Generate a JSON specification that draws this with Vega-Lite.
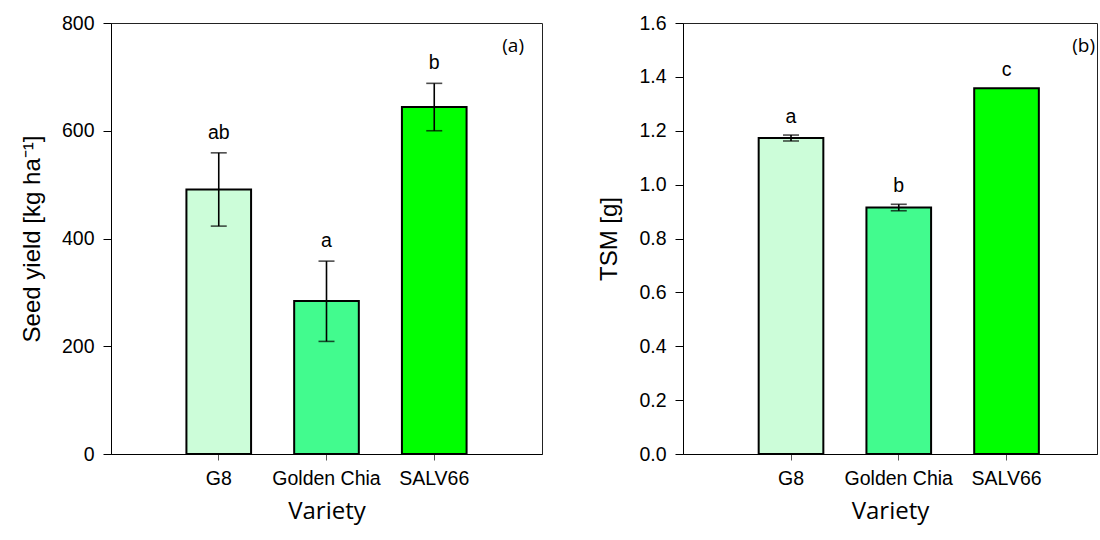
{
  "$schema": "https://vega.github.io/schema/vega-lite/v6.json",
  "background": "white",
  "padding": {"left": 19, "top": 12, "right": 0, "bottom": 8},
  "bounds": "flush",
  "spacing": 141,
  "config": {
    "font": "Liberation Sans",
    "view": {"stroke": "#222", "strokeWidth": 1},
    "axis": {
      "grid": false,
      "domainColor": "#000",
      "domainWidth": 1,
      "tickColor": "#000",
      "labelColor": "#000",
      "titleColor": "#000",
      "labelFont": "Liberation Sans",
      "titleFont": "Liberation Sans",
      "labelFontSize": 19.5,
      "titleFontWeight": "normal"
    },
    "axisY": {"tickSize": 8, "labelPadding": 9, "titlePadding": 17, "titleFontSize": 24},
    "axisX": {"tickSize": 6, "tickColor": "#555", "labelPadding": 9, "labelAngle": 0, "titlePadding": 12, "titleFont": "Open Sans", "titleFontSize": 24},
    "title": {"font": "Open Sans", "fontSize": 19, "fontWeight": "normal", "color": "#000", "anchor": "end", "frame": "group", "baseline": "top"}
  },
  "datasets": {
    "yield": [
      {"variety": "G8", "mean": 491, "lower": 423, "upper": 559, "letter": "ab"},
      {"variety": "Golden Chia", "mean": 284, "lower": 209, "upper": 358, "letter": "a"},
      {"variety": "SALV66", "mean": 644, "lower": 600, "upper": 688, "letter": "b"}
    ],
    "tsm": [
      {"variety": "G8", "mean": 1.173, "lower": 1.162, "upper": 1.184, "letter": "a"},
      {"variety": "Golden Chia", "mean": 0.915, "lower": 0.903, "upper": 0.927, "letter": "b"},
      {"variety": "SALV66", "mean": 1.358, "lower": 1.358, "upper": 1.358, "letter": "c"}
    ]
  },
  "hconcat": [
    {
      "width": 431,
      "height": 431,
      "data": {"name": "yield"},
      "title": {"text": "(a)", "offset": -18, "dx": -18, "dy": 25},
      "encoding": {
        "x": {"field": "variety", "type": "nominal", "sort": null, "title": "Variety",
              "scale": {"paddingInner": 0.4, "paddingOuter": 0.7}}
      },
      "layer": [
        {
          "mark": {"type": "bar", "stroke": "#000", "strokeWidth": 2},
          "encoding": {
            "y": {"field": "mean", "type": "quantitative", "title": "Seed yield [kg ha⁻¹]",
                  "scale": {"domain": [0, 800], "nice": false},
                  "axis": {"values": [0, 200, 400, 600, 800]}},
            "color": {"field": "variety", "type": "nominal", "legend": null,
                      "scale": {"domain": ["G8", "Golden Chia", "SALV66"], "range": ["#ccfdd9", "#42fb8e", "#00ff00"]}}
          }
        },
        {
          "transform": [{"filter": "datum.upper > datum.lower"}],
          "mark": {"type": "rule", "color": "#000", "strokeWidth": 1.6},
          "encoding": {"y": {"field": "lower", "type": "quantitative"}, "y2": {"field": "upper"}}
        },
        {
          "transform": [{"filter": "datum.upper > datum.lower"}],
          "mark": {"type": "tick", "orient": "horizontal", "color": "#000", "size": 16, "thickness": 1.6},
          "encoding": {"y": {"field": "upper", "type": "quantitative"}}
        },
        {
          "transform": [{"filter": "datum.upper > datum.lower"}],
          "mark": {"type": "tick", "orient": "horizontal", "color": "#000", "size": 16, "thickness": 1.6},
          "encoding": {"y": {"field": "lower", "type": "quantitative"}}
        },
        {
          "mark": {"type": "text", "dy": -14, "baseline": "alphabetic", "fontSize": 19.5, "color": "#000"},
          "encoding": {"y": {"field": "upper", "type": "quantitative"}, "text": {"field": "letter"}}
        }
      ]
    },
    {
      "width": 414,
      "height": 431,
      "data": {"name": "tsm"},
      "title": {"text": "(b)", "offset": -18, "dx": -2, "dy": 25},
      "encoding": {
        "x": {"field": "variety", "type": "nominal", "sort": null, "title": "Variety",
              "scale": {"paddingInner": 0.4, "paddingOuter": 0.621, "align": 0.5655}}
      },
      "layer": [
        {
          "mark": {"type": "bar", "stroke": "#000", "strokeWidth": 2},
          "encoding": {
            "y": {"field": "mean", "type": "quantitative", "title": "TSM [g]",
                  "scale": {"domain": [0, 1.6], "nice": false},
                  "axis": {"values": [0, 0.2, 0.4, 0.6, 0.8, 1.0, 1.2, 1.4, 1.6], "format": ".1f"}},
            "color": {"field": "variety", "type": "nominal", "legend": null,
                      "scale": {"domain": ["G8", "Golden Chia", "SALV66"], "range": ["#ccfdd9", "#42fb8e", "#00ff00"]}}
          }
        },
        {
          "transform": [{"filter": "datum.upper > datum.lower"}],
          "mark": {"type": "rule", "color": "#000", "strokeWidth": 1.6},
          "encoding": {"y": {"field": "lower", "type": "quantitative"}, "y2": {"field": "upper"}}
        },
        {
          "transform": [{"filter": "datum.upper > datum.lower"}],
          "mark": {"type": "tick", "orient": "horizontal", "color": "#000", "size": 16, "thickness": 1.6},
          "encoding": {"y": {"field": "upper", "type": "quantitative"}}
        },
        {
          "transform": [{"filter": "datum.upper > datum.lower"}],
          "mark": {"type": "tick", "orient": "horizontal", "color": "#000", "size": 16, "thickness": 1.6},
          "encoding": {"y": {"field": "lower", "type": "quantitative"}}
        },
        {
          "mark": {"type": "text", "dy": -12, "baseline": "alphabetic", "fontSize": 19.5, "color": "#000"},
          "encoding": {"y": {"field": "upper", "type": "quantitative"}, "text": {"field": "letter"}}
        }
      ]
    }
  ]
}
